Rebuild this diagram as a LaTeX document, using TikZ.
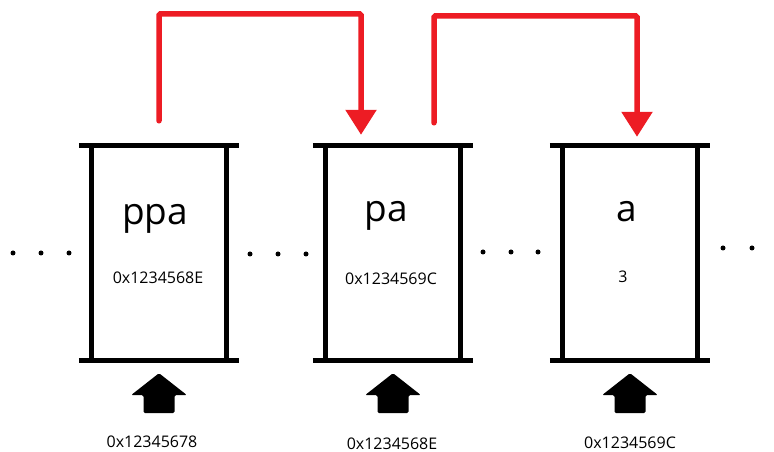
\documentclass[tikz,border=0pt]{standalone}
\usepackage{fontspec}
\setmainfont{Open Sans}
\usetikzlibrary{arrows.meta,calc}
\definecolor{ptrRed}{HTML}{ED1C24}
\definecolor{ink}{HTML}{000000}
\newcommand{\addrarrow}[1]{%
  \fill[ink, rounded corners=1.5pt] (#1) -- ++(28,-22) -- ++(-12.5,0) -- ++(0,-18)
    -- ++(-31,0) -- ++(0,18) -- ++(-12.5,0) -- cycle;}

\begin{document}
\begin{tikzpicture}[
    x=1pt, y=1pt,
    every node/.style={text=ink, inner sep=0pt},
    cell/.style={rectangle, minimum width=134pt, minimum height=215pt},
    varname/.style={font=\fontsize{37}{40}\selectfont, anchor=base},
    cellval/.style={font=\fontsize{16}{18}\selectfont},
    addr/.style={font=\fontsize{16}{18}\selectfont},
    wall/.style={line width=5pt, draw=ink},
    ptr/.style={-{Triangle[length=25pt,width=30pt]}, line width=5.5pt, draw=ptrRed,
                rounded corners=1.5pt, line cap=round},
]
\useasboundingbox (0,0) rectangle (774,452);

% --- memory cells ---
\node[cell] (ppa) at (159,199) {};
\node[cell] (pa)  at (393,199) {};
\node[cell] (a)   at (630,199) {};

\foreach \c in {ppa,pa,a} {
  \draw[wall] ([xshift=-13pt]\c.north west) -- ([xshift=13pt]\c.north east);
  \draw[wall] ([xshift=-13pt]\c.south west) -- ([xshift=13pt]\c.south east);
  \draw[wall] (\c.north west) -- (\c.south west);
  \draw[wall] (\c.north east) -- (\c.south east);
  \addrarrow{[yshift=-12.5pt]\c.south}
}

% --- names and values ---
\node[varname] (ppa-name) at ($(ppa.center)+(-4,28)$) {ppa};
\node[varname] (pa-name)  at ($(pa.center)+(-7,31)$)  {pa};
\node[varname] (a-name)   at ($(a.center)+(-3,31)$)   {a};

\node[cellval] (ppa-val) at ($(ppa.center)+(-1,-25)$) {0x1234568E};
\node[cellval] (pa-val)  at ($(pa.center)+(-2,-26)$)  {0x1234569C};
\node[cellval] (a-val)   at ($(a.center)+(-7,-24)$)   {3};

% --- addresses under the cells ---
\node[addr] (ppa-addr) at ($(ppa.south)+(-7,-81)$) {0x12345678};
\node[addr] (pa-addr)  at ($(pa.south)+(-1,-83)$)  {0x1234568E};
\node[addr] (a-addr)   at ($(a.south)+(0,-82)$)    {0x1234569C};

% --- pointers ---
\draw[ptr] ([yshift=24.5pt]ppa.north) -- ++(0,107)
    -| ([xshift=-32pt,yshift=10.5pt]pa.north);
\draw[ptr] ([xshift=41pt,yshift=22.5pt]pa.north) -- ++(0,107)
    -| ([xshift=7pt,yshift=8.5pt]a.north);

% --- elided memory ---
\foreach \x/\y in {13/199, 41/199, 69/199, 250/198, 278/198, 306/198,
                   483/200, 511/200, 538/200, 723/204, 752/204}
  \fill[ink] (\x,\y) circle (2.5pt);

\end{tikzpicture}
\end{document}
